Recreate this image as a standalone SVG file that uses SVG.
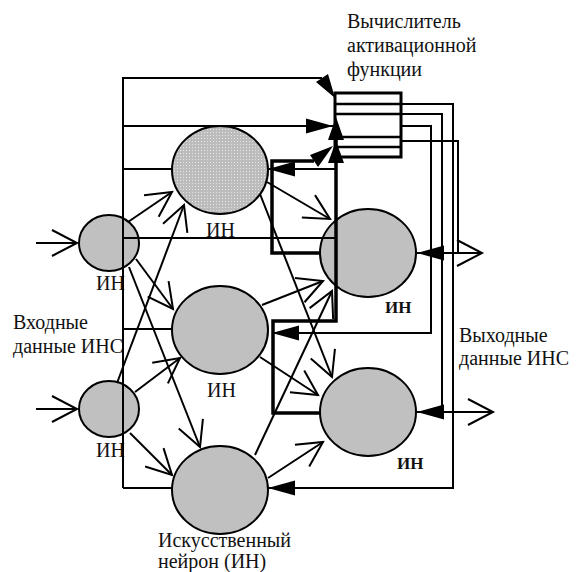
<svg xmlns="http://www.w3.org/2000/svg" width="577" height="572" viewBox="0 0 577 572">
<style>
.node{fill:#c0c0c0;stroke:#000;stroke-width:2}
.c{fill:none;stroke:#000;stroke-width:2}
.t{fill:none;stroke:#000;stroke-width:3.5}
.box{fill:#fff;stroke:#000;stroke-width:3}
.bl{stroke:#000;stroke-width:2.5}
.ah{fill:#000}
text{font-family:"Liberation Serif","DejaVu Serif",serif;font-size:20px;fill:#111}
.b{font-weight:bold;font-size:17px}
</style>
<defs>
<pattern id="dots" width="3" height="3" patternUnits="userSpaceOnUse">
<rect width="3" height="3" fill="#bcbcbc"/>
<rect width="1" height="1" fill="#e6e6e6"/>
</pattern>
<marker id="oa" viewBox="-30 -16 32 32" refX="0" refY="0" markerWidth="32" markerHeight="32" markerUnits="userSpaceOnUse" orient="auto" overflow="visible">
<path d="M-25,-13 L0,0 L-25,13" fill="none" stroke="#000" stroke-width="2"/>
</marker>
<marker id="fa" viewBox="-28 -9 30 18" refX="0" refY="0" markerWidth="30" markerHeight="18" markerUnits="userSpaceOnUse" orient="auto" overflow="visible">
<path d="M0,0 L-27,-7.5 L-27,7.5 Z" fill="#000"/>
</marker>
</defs>
<rect width="577" height="572" fill="#fff"/>

<g id="calc">
<rect class="box" x="335" y="93" width="66" height="64"/>
<line class="bl" x1="335" y1="104" x2="401" y2="104"/>
<line class="bl" x1="335" y1="114" x2="401" y2="114"/>
<line class="bl" x1="335" y1="137" x2="401" y2="137"/>
<line class="bl" x1="335" y1="147" x2="401" y2="147"/>
<text x="347" y="28">Вычислитель</text>
<text x="347" y="52">активационной</text>
<text x="347" y="76">функции</text>
</g>

<g id="inA">
<ellipse class="node" cx="109" cy="243" rx="30" ry="28"/>
<text x="96" y="290">ИН</text>
</g>
<g id="inB">
<ellipse class="node" cx="109" cy="409" rx="30" ry="28"/>
<text x="96" y="457">ИН</text>
</g>
<g id="n1">
<ellipse cx="220" cy="170" rx="48" ry="44" fill="url(#dots)" stroke="#000" stroke-width="2"/>
<text x="206" y="237">ИН</text>
</g>
<g id="n2">
<ellipse class="node" cx="220" cy="330" rx="48" ry="44"/>
<text x="207" y="397">ИН</text>
</g>
<g id="n3">
<ellipse class="node" cx="220" cy="490" rx="48" ry="44"/>
<text x="158" y="547">Искусственный</text>
<text x="158" y="568">нейрон (ИН)</text>
</g>
<g id="r1">
<ellipse class="node" cx="368" cy="253" rx="48" ry="44"/>
<text class="b" x="385" y="313">ИН</text>
</g>
<g id="r2">
<ellipse class="node" cx="368" cy="412" rx="48" ry="44"/>
<text class="b" x="397" y="469">ИН</text>
</g>

<g id="labels">
<text x="13" y="329">Входные</text>
<text x="13" y="353">данные ИНС</text>
<text x="459" y="342">Выходные</text>
<text x="459" y="365">данные ИНС</text>
</g>

<g id="connectors">
<path class="c" d="M123,488 V78 H322"/>
<polygon class="ah" points="335,98 328,74 316,82"/>
<path class="c" d="M123,126 H333" marker-end="url(#fa)"/>
<path class="c" d="M123,169 H172"/>
<path class="c" d="M123,238 H335"/>
<path class="c" d="M123,329 H172"/>
<path class="c" d="M123,488 H172"/>

<path class="c" d="M401,104 H453 V488 H268" marker-end="url(#fa)"/>
<path class="c" d="M401,114 H442 V412 H417" marker-end="url(#fa)"/>
<path class="c" d="M401,126 H431 V333 H272" marker-end="url(#fa)"/>
<path class="c" d="M401,141 H458 V253 H417" marker-end="url(#fa)"/>
<path class="c" d="M417,253 H482" marker-end="url(#oa)"/>
<path class="c" d="M417,412 H493" marker-end="url(#oa)"/>

<path class="t" d="M320,253 H272 V161 H314"/>
<polygon class="ah" points="333,146 318,167 310,155"/>
<path class="t" d="M320,413 H273 V321 H336 V140"/>
<polygon class="ah" points="336,117 328,140 344,140"/>
<polygon class="ah" points="336,141 328,163 344,163"/>
<path class="c" d="M336,169 H268" marker-end="url(#fa)"/>

<path class="c" d="M36,243 H77" marker-end="url(#oa)"/>
<path class="c" d="M36,409 H77" marker-end="url(#oa)"/>

<path class="c" d="M128,222 L172,192" marker-end="url(#oa)"/>
<path class="c" d="M117,383 L184,205" marker-end="url(#oa)"/>
<path class="c" d="M136,259 L173,309" marker-end="url(#oa)"/>
<path class="c" d="M129,267 L200,447" marker-end="url(#oa)"/>
<path class="c" d="M135,392 L180,358" marker-end="url(#oa)"/>
<path class="c" d="M130,433 L172,475" marker-end="url(#oa)"/>
<path class="c" d="M267,182 L330,219" marker-end="url(#oa)"/>
<path class="c" d="M260,194 L332,377" marker-end="url(#oa)"/>
<path class="c" d="M262,305 L323,281" marker-end="url(#oa)"/>
<path class="c" d="M260,357 L318,395" marker-end="url(#oa)"/>
<path class="c" d="M255,455 L332,291" marker-end="url(#oa)"/>
<path class="c" d="M268,478 L323,442" marker-end="url(#oa)"/>
</g>
</svg>
